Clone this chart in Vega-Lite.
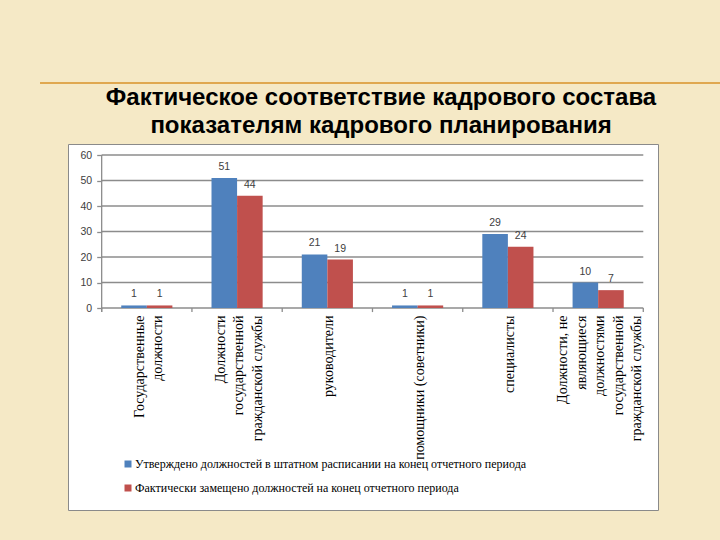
{
  "$schema": "https://vega.github.io/schema/vega-lite/v6.json",
  "width": 590,
  "height": 366,
  "autosize": "none",
  "padding": {"left": 68, "top": 144, "right": 62, "bottom": 30},
  "background": "#F5E9C6",
  "title": {
    "text": ["Фактическое соответствие кадрового состава", "показателям кадрового планирования"],
    "anchor": "middle",
    "frame": "group",
    "font": "Liberation Sans",
    "fontSize": 24,
    "fontWeight": "bold",
    "color": "#000000",
    "lineHeight": 28,
    "offset": -56,
    "dx": 18
  },
  "config": {
    "view": {"fill": "white", "stroke": "#8a8a8a", "strokeWidth": 1}
  },
  "datasets": {
    "main": [
      {"cat": "Государственные\nдолжности", "series": "Утверждено  должностей в штатном расписании на конец отчетного периода", "value": 1},
      {"cat": "Государственные\nдолжности", "series": "Фактически замещено должностей на конец отчетного периода", "value": 1},
      {"cat": "Должности\nгосударственной\nгражданской службы", "series": "Утверждено  должностей в штатном расписании на конец отчетного периода", "value": 51},
      {"cat": "Должности\nгосударственной\nгражданской службы", "series": "Фактически замещено должностей на конец отчетного периода", "value": 44},
      {"cat": "руководители", "series": "Утверждено  должностей в штатном расписании на конец отчетного периода", "value": 21},
      {"cat": "руководители", "series": "Фактически замещено должностей на конец отчетного периода", "value": 19},
      {"cat": "помощники (советники)", "series": "Утверждено  должностей в штатном расписании на конец отчетного периода", "value": 1},
      {"cat": "помощники (советники)", "series": "Фактически замещено должностей на конец отчетного периода", "value": 1},
      {"cat": "специалисты", "series": "Утверждено  должностей в штатном расписании на конец отчетного периода", "value": 29},
      {"cat": "специалисты", "series": "Фактически замещено должностей на конец отчетного периода", "value": 24},
      {"cat": "Должности, не\nявляющиеся\nдолжностями\nгосударственной\nгражданской службы", "series": "Утверждено  должностей в штатном расписании на конец отчетного периода", "value": 10},
      {"cat": "Должности, не\nявляющиеся\nдолжностями\nгосударственной\nгражданской службы", "series": "Фактически замещено должностей на конец отчетного периода", "value": 7}
    ],
    "grid": [{"g": 0}, {"g": 10}, {"g": 20}, {"g": 30}, {"g": 40}, {"g": 50}, {"g": 60}],
    "bounds": [{"b": 0}, {"b": 1}, {"b": 2}, {"b": 3}, {"b": 4}, {"b": 5}, {"b": 6}]
  },
  "layer": [
    {
      "layer": [
        {
          "data": {"name": "grid"},
          "mark": {"type": "rule", "stroke": "#8c8c8c", "strokeWidth": 1.3},
          "encoding": {
            "x": {"datum": 0, "type": "quantitative", "scale": {"domain": [-0.373, 6.163], "nice": false, "zero": false}, "axis": null},
            "x2": {"datum": 6},
            "y": {"field": "g", "type": "quantitative", "title": null, "scale": {"domain": [-79.216, 64.314], "nice": false, "zero": false}}
          }
        },
        {
          "data": {"name": "bounds"},
          "mark": {"type": "rule", "stroke": "#8c8c8c", "strokeWidth": 1.3},
          "encoding": {
            "x": {"field": "b", "type": "quantitative", "scale": {"domain": [-0.373, 6.163], "nice": false, "zero": false}, "axis": null},
            "y": {"datum": 0, "type": "quantitative", "title": null, "scale": {"domain": [-79.216, 64.314], "nice": false, "zero": false}},
            "y2": {"datum": -1.6}
          }
        },
        {
          "data": {"values": [{"k": 1}]},
          "mark": {"type": "rule", "stroke": "#8c8c8c", "strokeWidth": 1.3},
          "encoding": {
            "x": {"datum": 0, "type": "quantitative", "scale": {"domain": [-0.373, 6.163], "nice": false, "zero": false}, "axis": null},
            "y": {"datum": -1.6, "type": "quantitative", "title": null, "scale": {"domain": [-79.216, 64.314], "nice": false, "zero": false}},
            "y2": {"datum": 60}
          }
        },
        {
          "data": {"values": [{"k": 1}]},
          "mark": {"type": "rule", "stroke": "#E0A850", "strokeWidth": 2, "clip": false},
          "encoding": {
            "x": {"datum": -0.683, "type": "quantitative", "scale": {"domain": [-0.373, 6.163], "nice": false, "zero": false}, "axis": null},
            "x2": {"datum": 6.85},
            "y": {"datum": 88.24, "type": "quantitative", "title": null, "scale": {"domain": [-79.216, 64.314], "nice": false, "zero": false}}
          }
        }
      ]
    },
    {
      "data": {"name": "main"},
      "encoding": {
        "x": {
          "field": "cat",
          "type": "nominal",
          "sort": null,
          "title": null,
          "scale": {"paddingInner": 0, "paddingOuter": 0.268, "align": 0.696},
          "axis": {
            "orient": "bottom",
            "offset": -202,
            "domain": false,
            "ticks": false,
            "labelAngle": 270,
            "labelAlign": "right",
            "labelBaseline": "middle",
            "labelPadding": 7,
            "labelFont": "Liberation Serif",
            "labelFontSize": 14,
            "labelColor": "#000000",
            "labelLineHeight": 18.5,
            "labelLimit": 0,
            "labelOffset": {"expr": "-(length(split(datum.label, '\\n')) - 1) * 9.25 + 2"},
            "labelExpr": "split(datum.label, '\\n')"
          }
        },
        "xOffset": {
          "field": "series",
          "type": "nominal",
          "sort": null,
          "scale": {"paddingOuter": 0.765, "paddingInner": 0}
        },
        "y": {
          "field": "value",
          "type": "quantitative",
          "title": null,
          "scale": {"domain": [-79.216, 64.314], "nice": false, "zero": false},
          "axis": {
            "values": [0, 10, 20, 30, 40, 50, 60],
            "offset": -33.7,
            "domain": false,
            "grid": false,
            "ticks": true,
            "tickSize": 5,
            "tickColor": "#8c8c8c",
            "tickWidth": 1.3,
            "labelFont": "Liberation Sans",
            "labelFontSize": 10.5,
            "labelColor": "#404040",
            "labelPadding": 5
          }
        }
      },
      "layer": [
        {
          "mark": {"type": "bar"},
          "encoding": {
            "y2": {"datum": 0},
            "color": {
              "field": "series",
              "type": "nominal",
              "sort": null,
              "scale": {"range": ["#4F81BD", "#C0504D"]},
              "legend": {
                "title": null,
                "orient": "none",
                "legendX": 54,
                "legendY": 314,
                "direction": "vertical",
                "symbolType": "square",
                "symbolSize": 49,
                "symbolStrokeWidth": 0,
                "labelFont": "Liberation Serif",
                "labelFontSize": 12,
                "labelColor": "#000000",
                "labelLimit": 0,
                "labelOffset": 1,
                "rowPadding": 12
              }
            }
          }
        },
        {
          "mark": {"type": "text", "dy": -11, "baseline": "middle", "font": "Liberation Sans", "fontSize": 10.5, "fill": "#404040"},
          "encoding": {
            "text": {"field": "value", "type": "quantitative"}
          }
        }
      ]
    }
  ],
  "resolve": {"scale": {"x": "independent"}, "axis": {"x": "independent"}}
}
